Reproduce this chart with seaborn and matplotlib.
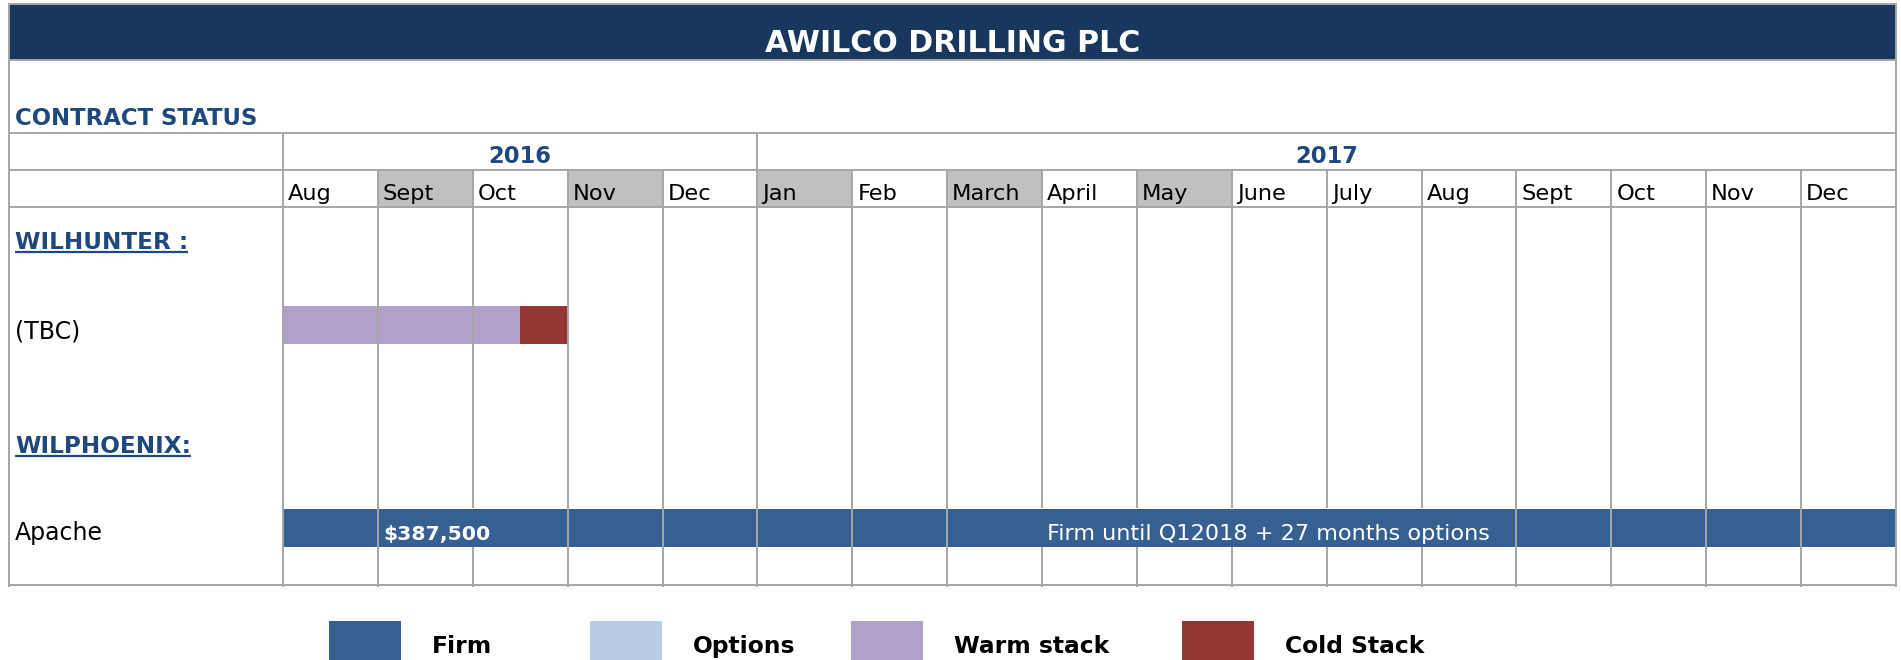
import numpy as np
import pandas as pd
import seaborn as sns
import matplotlib
matplotlib.use("Agg")
import matplotlib.pyplot as plt
from matplotlib.patches import Rectangle

# --- data ---
months = ["Aug", "Sept", "Oct", "Nov", "Dec", "Jan", "Feb", "March", "April",
          "May", "June", "July", "Aug", "Sept", "Oct", "Nov", "Dec"]
header_shade = [0, 1, 0, 1, 0, 1, 0, 1, 0, 1, 0, 0, 0, 0, 0, 0, 0]
years = ["2016", "2017"]
year_months = [5, 12]

rigs = ["WILHUNTER :", "WILPHOENIX:"]
contracts = ["(TBC)", "Apache"]

seg_contract = ["(TBC)", "(TBC)", "Apache"]
seg_start = [0, 2.5, 0]
seg_length = [2.5, 0.5, 17]
seg_status = ["Warm stack", "Cold Stack", "Firm"]

status_names = ["Firm", "Options", "Warm stack", "Cold Stack"]

note_text = ["$387,500", "Firm until Q12018 + 27 months options"]
note_bold = [True, False]
note_at = [1, 8]
note_cell = [(1, 3), (7, 13)]

# --- styles ---
NAVY = "#17375E"
BLUE = "#1F497D"
GRID = "#A6A6A6"
SHADE = "#C0C0C0"
status_colors = dict(zip(status_names, ["#366092", "#B8CCE4", "#B1A0C7", "#963634"]))

sns.set_theme(style="white")
plt.rcParams["font.family"] = ["DejaVu Sans"]

# layout in pixels of the 1901x660 picture, converted to month units on x
X0, MW = 283, 94.88
def mx(px):
    return (px - X0) / MW

n = len(months)
xl = mx(9)
row_y = {"(TBC)": 324.5, "Apache": 527.5}
row_base = {"(TBC)": 338, "Apache": 540}
rig_base = {"WILHUNTER :": 249, "WILPHOENIX:": 453}

fig = plt.figure(figsize=(19.01, 6.6), dpi=100)
ax = fig.add_axes([0, 0, 1, 1])
ax.set_xlim(mx(0), mx(1901))
ax.set_ylim(660, 0)
ax.axis("off")

# title band
ax.add_patch(Rectangle((xl, 4), n - xl, 56, facecolor=NAVY, edgecolor=GRID, lw=1.4, zorder=3))
ax.text((xl + n) / 2, 52, "AWILCO DRILLING PLC", color="white", fontsize=21.6,
        fontweight="bold", ha="center", va="baseline", zorder=4)
ax.text(mx(15), 125, "CONTRACT STATUS", color=BLUE, fontsize=16.4,
        fontweight="bold", ha="left", va="baseline")

# year header
start = 0
for yr, k in zip(years, year_months):
    ax.text(start + k / 2, 163, yr, color=BLUE, fontsize=16.3, fontweight="bold",
            ha="center", va="baseline")
    start += k

# month header
shaded_idx = [i for i, s in enumerate(header_shade) if s]
ax.bar(shaded_idx, 37, bottom=170, width=1, align="edge", color=SHADE, lw=0, zorder=1)
for i, m in enumerate(months):
    ax.text(i + 5 / MW, 200, m, fontsize=16.2, color="black", ha="left", va="baseline", zorder=3)

# gantt segments
ax.barh([row_y[c] for c in seg_contract], seg_length, left=seg_start, height=38,
        color=[status_colors[s] for s in seg_status], lw=0, zorder=1)

# grid lines
lw = 1.4
ax.hlines([60, 133, 170, 207, 585], xl, n, color=GRID, lw=lw, zorder=2)
ax.vlines([xl, n], 4, 587, color=GRID, lw=lw, zorder=2)
ax.vlines([0, year_months[0]], 133, 587, color=GRID, lw=lw, zorder=2)
hidden = set()
for a, b in note_cell:
    hidden.update(range(a + 1, b))
for b in range(1, n):
    if b == year_months[0]:
        continue
    if b in hidden:
        ax.vlines(b, 170, 508, color=GRID, lw=lw, zorder=2)
        ax.vlines(b, 547, 587, color=GRID, lw=lw, zorder=2)
    else:
        ax.vlines(b, 170, 587, color=GRID, lw=lw, zorder=2)

# notes inside the Apache bar
for t, bold, x in zip(note_text, note_bold, note_at):
    ax.text(x + 5 / MW, 540, t, color="white", fontsize=14.7 if bold else 16.1,
            fontweight="bold" if bold else "normal", ha="left", va="baseline", zorder=3)

# row labels
for c in contracts:
    ax.text(mx(15), row_base[c], c, fontsize=17, color="black", ha="left", va="baseline")
rig_texts = []
for r in rigs:
    rig_texts.append(ax.text(mx(15), rig_base[r], r, fontsize=16.7, color=BLUE,
                             fontweight="bold", ha="left", va="baseline"))
fig.canvas.draw()
inv = ax.transData.inverted()
for r, t in zip(rigs, rig_texts):
    bb = t.get_window_extent()
    x0 = inv.transform((bb.x0, bb.y0))[0]
    x1 = inv.transform((bb.x1, bb.y0))[0]
    ax.hlines(rig_base[r] + 3, x0, x1, color=BLUE, lw=1.6)

# legend
legend_px = [329, 590, 851, 1182]
ax.bar([mx(p) for p in legend_px], 60, bottom=621, width=72 / MW, align="edge",
       color=[status_colors[s] for s in status_names], lw=0)
for p, s in zip(legend_px, status_names):
    ax.text(mx(p + 103), 653, s, fontsize=16.8, fontweight="bold", color="black",
            ha="left", va="baseline")

fig.savefig("out.png", dpi=100)
